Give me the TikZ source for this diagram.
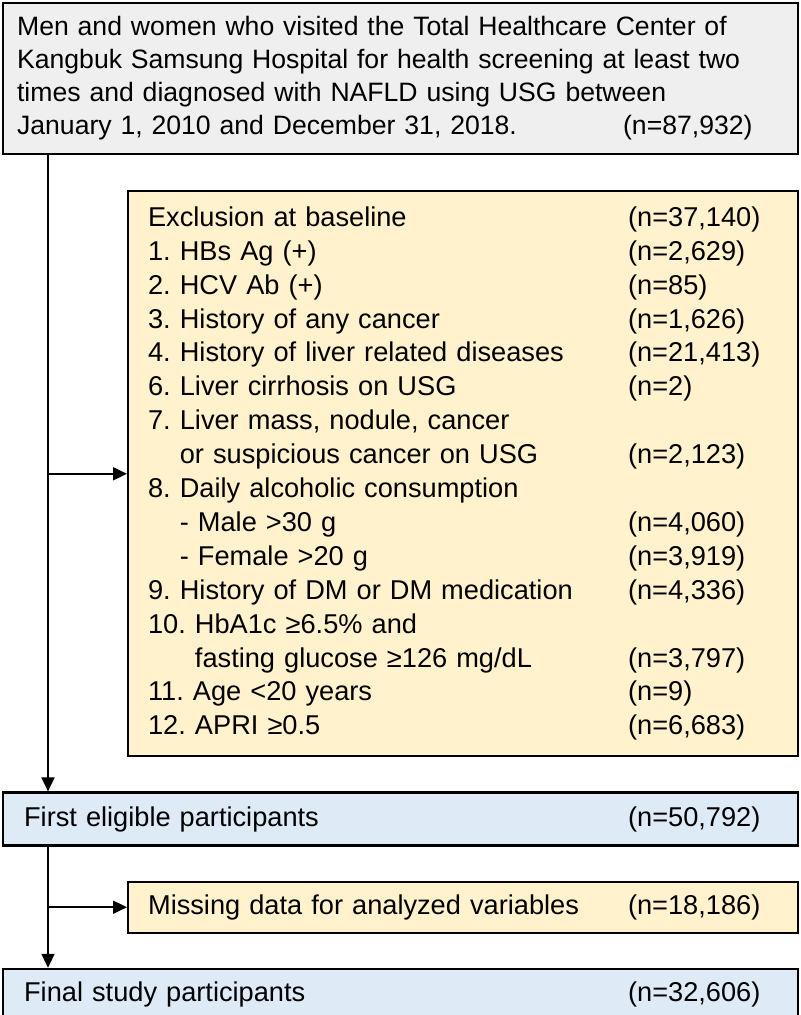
\documentclass[tikz,border=0pt]{standalone}
\usepackage{fontspec}
\setmainfont{Liberation Sans}
\usetikzlibrary{arrows.meta,positioning}
\definecolor{headgray}{HTML}{EFEFEF}
\definecolor{exclyellow}{HTML}{FFF2CC}
\definecolor{stageblue}{HTML}{DEEBF7}
\frenchspacing

\begin{document}
\begin{tikzpicture}[
    node distance=17pt,
    every node/.style={font=\fontsize{13.6}{16.95}\selectfont},
    base/.style={draw, line width=1.1pt, align=left, inner ysep=0pt},
    source/.style={base, fill=headgray, text width=383.5pt, inner xsep=7pt, minimum height=75.5pt, font=\fontsize{13.3}{16.5}\selectfont},
    excl/.style={base, fill=exclyellow, text width=315pt, inner xsep=10pt},
    stage/.style={base, fill=stageblue, text width=376.5pt, inner xsep=10.5pt},
    flow/.style={-{Triangle[length=7pt, width=6.5pt]}, line width=1pt}
]
\useasboundingbox (-1pt,1pt) rectangle (399pt,-506.5pt);
\node[source, anchor=north west] (cohort) at (0,0) {Men and women who visited the Total Healthcare Center of\\Kangbuk Samsung Hospital for health screening at least two\\times and diagnosed with NAFLD using USG between\\\makebox[303pt][l]{January 1, 2010 and December 31, 2018.}(n=87,932)};
\node[excl, minimum height=282.5pt, below=17.5pt of cohort.south east, anchor=north east] (baseline) {%
\begin{tabular}{@{}p{240pt}@{}l@{}}
Exclusion at baseline & (n=37,140)\\
1. HBs Ag (+) & (n=2,629)\\
2. HCV Ab (+) & (n=85)\\
3. History of any cancer & (n=1,626)\\
4. History of liver related diseases & (n=21,413)\\
6. Liver cirrhosis on USG & (n=2)\\
7. Liver mass, nodule, cancer & \\
\hphantom{7.}~or suspicious cancer on USG & (n=2,123)\\
8. Daily alcoholic consumption & \\
\hphantom{8.}~- Male >30 g & (n=4,060)\\
\hphantom{8.}~- Female >20 g & (n=3,919)\\
9. History of DM or DM medication & (n=4,336)\\
10. HbA1c ≥6.5\% and & \\
\hphantom{10.}~fasting glucose ≥126 mg/dL & (n=3,797)\\
11. Age <20 years & (n=9)\\
12. APRI ≥0.5 & (n=6,683)
\end{tabular}};
\node[stage, minimum height=26.5pt, below=of baseline.south east, anchor=north east] (eligible) {\makebox[302pt][l]{First eligible participants}(n=50,792)};
\node[excl, minimum height=25.5pt, below=of eligible.south east, anchor=north east] (missing) {\makebox[240pt][l]{Missing data for analyzed variables}(n=18,186)};
\node[stage, minimum height=25.5pt, below=of missing.south east, anchor=north east] (final) {\makebox[302pt][l]{Final study participants}(n=32,606)};
% trunk and side arrows
\coordinate (trunk) at ([xshift=23pt]cohort.south west);
\draw[flow] (trunk) -- (trunk |- eligible.north);
\draw[flow] (trunk |- baseline.west) -- (baseline.west);
\draw[flow] (eligible.south -| trunk) -- (final.north -| trunk);
\draw[flow] (missing.west -| trunk) -- (missing.west);
\end{tikzpicture}
\end{document}
